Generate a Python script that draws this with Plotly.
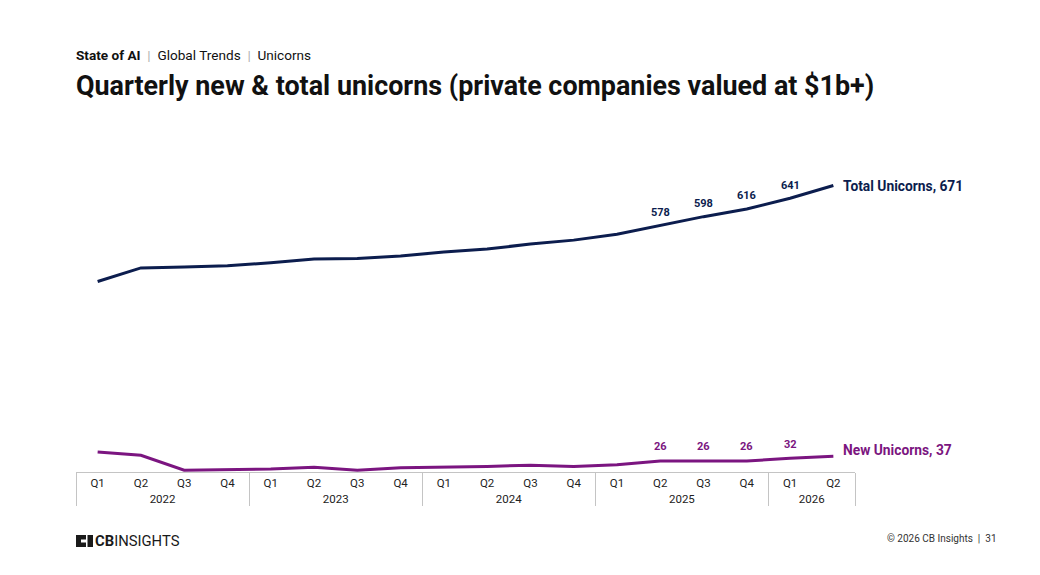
import plotly.graph_objects as go

years = ["2022"] * 4 + ["2023"] * 4 + ["2024"] * 4 + ["2025"] * 4 + ["2026"] * 2
quarters = ["Q1", "Q2", "Q3", "Q4"] * 4 + ["Q1", "Q2"]
total_unicorns = [446, 478, 480, 483, 490, 499, 500, 506, 515, 522, 534, 543, 557, 578, 598, 616, 641, 671]
new_unicorns = [47, 39, 4, 5, 7, 11, 4, 10, 11, 13, 16, 13, 17, 26, 26, 26, 32, 37]
labeled_idx = [13, 14, 15, 16]  # points with data labels

NAVY = "#0c1d4e"
PURPLE = "#7b1580"
FONT = "Roboto"

fig = go.Figure()
fig.add_trace(go.Scatter(x=[years, quarters], y=total_unicorns, mode="lines",
                         line=dict(color=NAVY, width=3), cliponaxis=False,
                         name="Total Unicorns", hoverinfo="y"))
fig.add_trace(go.Scatter(x=[years, quarters], y=new_unicorns, mode="lines",
                         line=dict(color=PURPLE, width=3), cliponaxis=False,
                         name="New Unicorns", hoverinfo="y"))

ann = []
for i in labeled_idx:
    ann.append(dict(x=[years[i], quarters[i]], y=total_unicorns[i], xref="x", yref="y",
                    text=f"<b>{total_unicorns[i]}</b>", showarrow=False, yshift=13,
                    font=dict(family=FONT, size=11, color=NAVY)))
    ann.append(dict(x=[years[i], quarters[i]], y=new_unicorns[i], xref="x", yref="y",
                    text=f"<b>{new_unicorns[i]}</b>", showarrow=False, yshift=14,
                    font=dict(family=FONT, size=11, color=PURPLE)))

last = len(total_unicorns) - 1
ann.append(dict(x=[years[last], quarters[last]], y=total_unicorns[last], xref="x", yref="y",
                text=f"<b>Total Unicorns, {total_unicorns[last]}</b>", showarrow=False,
                xanchor="left", xshift=8, yshift=-0.5,
                font=dict(family=FONT, size=13.8, color=NAVY)))
ann.append(dict(x=[years[last], quarters[last]], y=new_unicorns[last], xref="x", yref="y",
                text=f"<b>New Unicorns, {new_unicorns[last]}</b>", showarrow=False,
                xanchor="left", xshift=8, yshift=6,
                font=dict(family=FONT, size=13.8, color=PURPLE)))

# header / footer texts positioned relative to the plot area via paper coords
L, R, T, B = 76, 185, 140, 103
W, H = 1040, 575
pw, ph = W - L - R, H - T - B
def px(x):
    return (x - L) / pw
def py(y):
    return (H - B - y) / ph

ann.append(dict(x=px(74), y=py(55), xref="paper", yref="paper", xanchor="left", yanchor="middle",
                showarrow=False,
                text="<b>State of AI</b><span style='color:#b0b0b0'>  |  </span>Global Trends<span style='color:#b0b0b0'>  |  </span>Unicorns",
                font=dict(family=FONT, size=13.6, color="#111111")))
ann.append(dict(x=px(74), y=py(86), xref="paper", yref="paper", xanchor="left", yanchor="middle",
                showarrow=False,
                text="<b>Quarterly new &amp; total unicorns (private companies valued at $1b+)</b>",
                font=dict(family=FONT, size=26.9, color="#111111")))
ann.append(dict(x=px(93), y=py(541), xref="paper", yref="paper", xanchor="left", yanchor="middle",
                showarrow=False, text="<b>CB</b>INSIGHTS",
                font=dict(family=FONT, size=14.8, color="#1a1a1a")))
ann.append(dict(x=px(999), y=py(538), xref="paper", yref="paper", xanchor="right", yanchor="middle",
                showarrow=False, text="© 2026 CB Insights  |  31",
                font=dict(family=FONT, size=10, color="#333333")))

shapes = [
    dict(type="rect", xref="paper", yref="paper", x0=px(76), x1=px(86), y0=py(547), y1=py(535),
         fillcolor="#1a1a1a", line=dict(width=0)),
    dict(type="rect", xref="paper", yref="paper", x0=px(87.5), x1=px(93), y0=py(547), y1=py(535),
         fillcolor="#1a1a1a", line=dict(width=0)),
    dict(type="rect", xref="paper", yref="paper", x0=px(81), x1=px(86), y0=py(542.5), y1=py(539.5),
         fillcolor="white", line=dict(width=0)),
]

fig.update_layout(
    width=W, height=H,
    margin=dict(l=L, r=R, t=T, b=B, pad=0),
    paper_bgcolor="white", plot_bgcolor="white",
    showlegend=False,
    annotations=ann,
    shapes=shapes,
    font=dict(family=FONT, color="#222222"),
    xaxis=dict(type="multicategory", range=[-0.5, len(quarters) - 0.5], autorange=False,
               showline=True, linecolor="#c4c4c4", linewidth=1,
               showgrid=False, zeroline=False, ticks="",
               showdividers=True, dividercolor="#c4c4c4", dividerwidth=1,
               tickfont=dict(family=FONT, size=11.5, color="#222222")),
    yaxis=dict(range=[0, 777.5], visible=False, showgrid=False, zeroline=False),
)

fig.write_html("out.html")
